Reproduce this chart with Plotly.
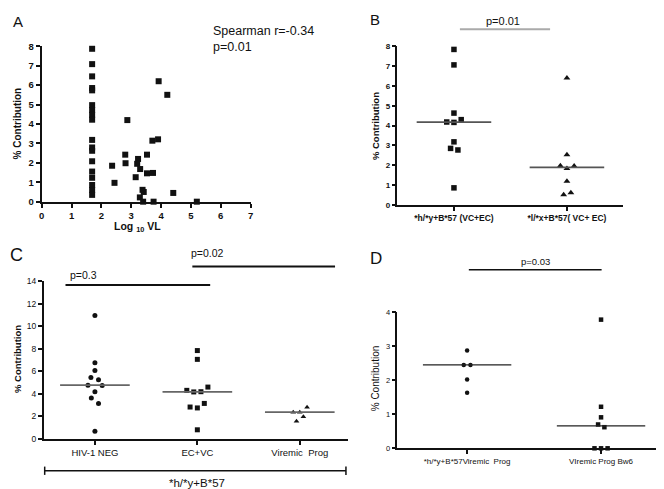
import numpy as np
import plotly.graph_objects as go

W, H = 664, 489
FONT = "Liberation Sans, Arial, sans-serif"

# ---------------- Panel A data ----------------
a_x = [1.69] * 18 + [3.92, 4.21, 2.87, 3.71, 3.90, 2.80, 3.53, 3.23, 3.20, 2.36, 2.81,
                     3.30, 3.53, 3.73, 3.15, 2.44, 3.38, 3.42, 3.29, 3.40, 3.75, 4.41, 5.20]
a_y = [7.87, 7.08, 6.45, 5.85, 5.73, 4.97, 4.72, 4.47, 4.22, 3.18, 2.79, 2.62, 2.08,
       1.55, 1.23, 0.86, 0.60, 0.35,
       6.20, 5.50, 4.20, 3.14, 3.21, 2.42, 2.42, 2.20, 1.95, 1.85, 1.98,
       1.68, 1.46, 1.48, 1.26, 0.97, 0.61, 0.50, 0.22, 0.0, 0.0, 0.45, 0.0]

# ---------------- Panel B data ----------------
b_cats = ["*h/*y+B*57 (VC+EC)", "*l/*x+B*57( VC+ EC)"]
b1_y = [7.84, 7.06, 4.63, 4.18, 4.16, 4.30, 3.18, 2.85, 2.77, 0.86]
b1_off = [0, 0, 0, -0.064, 0, 0.064, 0, -0.03, 0.035, 0]
b2_y = [6.40, 2.53, 1.98, 1.96, 1.83, 1.19, 0.51, 0.61]
b2_off = [0, 0, -0.058, 0.064, 0, 0, -0.029, 0.035]

# ---------------- Panel C data ----------------
c_cats = ["HIV-1 NEG", "EC+VC", "Viremic  Prog"]
c1_y = [10.96, 6.77, 6.07, 5.44, 5.26, 4.77, 4.74, 4.19, 3.64, 3.15, 0.69]
c1_off = [0, 0, 0, -0.039, 0.035, -0.068, 0.071, 0, -0.035, 0.035, 0]
c2_y = [7.84, 7.06, 4.31, 4.17, 4.19, 4.60, 3.15, 2.83, 2.75, 0.81]
c2_off = [0, 0, -0.103, -0.035, 0.035, 0.103, 0.068, -0.071, 0, 0]
c3_y = [2.37, 2.37, 2.81, 1.97, 1.56]
c3_off = [-0.064, 0, 0.071, 0.035, -0.032]

# ---------------- Panel D data ----------------
d_cats = ["*h/*y+B*57Viremic  Prog", "VIremic Prog Bw6"]
d1_y = [2.87, 2.45, 2.45, 2.02, 1.63]
d1_off = [0, -0.025, 0.025, 0, 0]
d2_y = [3.78, 1.22, 0.91, 0.70, 0.62, 0.0, 0.0, 0.0]
d2_off = [0, 0, 0, -0.022, 0.025, -0.049, 0, 0.049]


def px(x):
    return x / W


def py(y):
    return 1 - y / H


fig = go.Figure()


def add_points(xa, ya, cat, ys, offs, symbol, size, color="#111"):
    fig.add_trace(go.Scatter(
        x=[cat + o for o in offs], y=ys, mode="markers", xaxis=xa, yaxis=ya,
        marker=dict(symbol=symbol, size=size, color=color, line=dict(width=0)),
        cliponaxis=False, showlegend=False))


def add_median(xa, ya, cat, ys, color, width, half=0.33):
    m = float(np.median(ys))
    fig.add_trace(go.Scatter(
        x=[cat - half, cat + half], y=[m, m], mode="lines", xaxis=xa, yaxis=ya,
        line=dict(color=color, width=width), cliponaxis=False, showlegend=False,
        hoverinfo="skip"))


# Panel A
fig.add_trace(go.Scatter(x=a_x, y=a_y, mode="markers", xaxis="x", yaxis="y",
                         marker=dict(symbol="square", size=6, color="#111"),
                         cliponaxis=False, showlegend=False))

# Panel B
add_points("x2", "y2", 0, b1_y, b1_off, "square", 5.5)
add_points("x2", "y2", 1, b2_y, b2_off, "triangle-up", 6)
add_median("x2", "y2", 0, b1_y, "#555", 1.8)
add_median("x2", "y2", 1, b2_y, "#555", 1.8)

# Panel C
add_points("x3", "y3", 0, c1_y, c1_off, "circle", 5)
add_points("x3", "y3", 1, c2_y, c2_off, "square", 5)
add_points("x3", "y3", 2, c3_y, c3_off, "triangle-up", 5)
add_median("x3", "y3", 0, c1_y, "#666", 1.8, 0.34)
add_median("x3", "y3", 1, c2_y, "#666", 1.8, 0.34)
add_median("x3", "y3", 2, c3_y, "#666", 1.8, 0.34)

# Panel D
add_points("x4", "y4", 0, d1_y, d1_off, "circle", 4.5)
add_points("x4", "y4", 1, d2_y, d2_off, "square", 4.5)
add_median("x4", "y4", 0, d1_y, "#222", 1.2)
add_median("x4", "y4", 1, d2_y, "#222", 1.2)


def axis(domain, anchor, rng, size, bold, lw=1.5, **kw):
    d = dict(domain=domain, anchor=anchor, range=rng, showline=True, linecolor="#111",
             linewidth=lw, ticks="outside", ticklen=4, tickwidth=lw, tickcolor="#111",
             showgrid=False, zeroline=False, fixedrange=True,
             tickfont=dict(family=FONT, size=size, color="#111",
                           weight="bold" if bold else "normal"))
    d.update(kw)
    return d


fig.update_layout(
    width=W, height=H, margin=dict(l=0, r=0, t=0, b=0),
    paper_bgcolor="white", plot_bgcolor="white",
    xaxis=axis([px(31), px(241.7)], "y", [0, 7], 9.5, True, lw=2, dtick=1, tick0=0),
    yaxis=axis([py(192), py(33)], "x", [0, 8], 9.5, True, lw=2, dtick=1, tick0=0),
    xaxis2=axis([px(390), px(618)], "y2", [-0.5, 1.5], 8.5, True,
                tickvals=[0, 1], ticktext=b_cats),
    yaxis2=axis([py(195.3), py(33)], "x2", [0, 8], 8, True, dtick=1, tick0=0),
    xaxis3=axis([px(33), px(340)], "y3", [-0.5, 2.47], 9.5, False,
                tickvals=[0, 1, 2], ticktext=c_cats),
    yaxis3=axis([py(434.7), py(273.3)], "x3", [0, 14], 8.5, False, dtick=2, tick0=0),
    xaxis4=axis([px(390), px(663)], "y4", [-0.52, 1.5], 8, False,
                tickvals=[0, 1], ticktext=d_cats),
    yaxis4=axis([py(444.3), py(305)], "x4", [0, 4], 7.5, False, dtick=1, tick0=0),
)

anns = []


def ann(text, x, y, size, bold=False, xanchor="center", angle=0, color="#111", align="center"):
    anns.append(dict(text=text, x=px(x), y=py(y), xref="paper", yref="paper",
                     xanchor=xanchor, yanchor="middle", showarrow=False, textangle=angle,
                     align=align,
                     font=dict(family=FONT, size=size, color=color,
                               weight="bold" if bold else "normal")))


# Panel labels
ann("A", 7, 8, 15)
ann("B", 367, 6, 15)
ann("C", 6, 247, 18)
ann("D", 368, 250, 17)

# Panel A texts
ann("Spearman r=-0.34<br>p=0.01", 202, 26, 12.5, xanchor="left", align="left")
ann("Log <sub>10</sub> VL", 128, 218, 10.5, bold=True)
ann("% Contribution", 7, 112, 10, bold=True, angle=-90)

# Panel B texts
ann("% Contribution", 368, 115, 9.5, bold=True, angle=-90)
ann("p=0.01", 496, 7, 11)

# Panel C texts
ann("% Contribution", 6, 353, 9.5, bold=True, angle=-90)
ann("p=0.3", 73, 266.5, 10.5)
ann("p=0.02", 198, 245, 10.5)
ann("*h/*y+B*57", 188, 480, 11.5)

# Panel D texts
ann("% Contribution", 368, 373, 10, angle=-90)
ann("p=0.03", 529, 253, 9.5)

fig.update_layout(annotations=anns)

shapes = []


def seg(x0, y0, x1, y1, color="#111", width=2):
    shapes.append(dict(type="line", xref="paper", yref="paper",
                       x0=px(x0), y0=py(y0), x1=px(x1), y1=py(y1),
                       line=dict(color=color, width=width)))


seg(453, 15.7, 544, 15.7, "#aaa", 2)          # B p-bar
seg(55, 277.3, 201, 277.3, "#111", 2)         # C p=0.3
seg(183, 258.3, 327, 258.3, "#111", 2)        # C p=0.02
seg(34, 467.3, 338, 467.3, "#111", 1.5)       # C bracket
seg(34, 463, 34, 471.5, "#111", 1.5)
seg(338, 463, 338, 471.5, "#111", 1.5)
seg(462, 261.7, 596, 261.7, "#111", 1.5)      # D p-bar

fig.update_layout(shapes=shapes)

fig.write_html("out.html")
